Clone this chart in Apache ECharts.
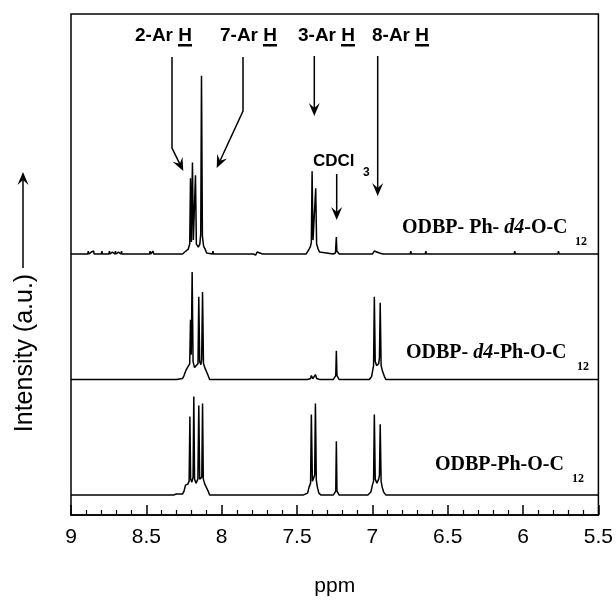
<!DOCTYPE html>
<html><head><meta charset="utf-8">
<script src="https://cdn.jsdelivr.net/npm/echarts@6/dist/echarts.min.js"></script>
<style>html,body{margin:0;padding:0;background:#fff}#c{width:616px;height:602px}</style>
</head><body><div id="c"></div>
<script>
// x: chemical shift (ppm); y: intensity (a.u.)
const xTicks = ['9','8.5','8','7.5','7','6.5','6','5.5'];
const traceNames = ['ODBP- Ph- d4-O-C12', 'ODBP- d4-Ph-O-C12', 'ODBP-Ph-O-C12'];
const traceOffsets = [242, 116, 0];

const traceTop = [
 [9.0,0],[8.919,0],[8.915,2],[8.911,0],[8.889,0],[8.885,3],[8.881,0],[8.869,0],[8.865,2],[8.861,0],
 [8.854,0],[8.85,3],[8.846,0],[8.824,0],[8.82,2],[8.816,0],[8.799,0],[8.795,3],[8.791,0],
 [8.769,0],[8.765,2],[8.761,0],[8.749,0],[8.745,3],[8.741,0],[8.729,0],[8.725,2],[8.721,0],
 [8.709,0],[8.705,3],[8.701,0],[8.689,0],[8.685,2],[8.681,0],[8.669,0],[8.665,3],[8.661,0],
 [8.629,0],[8.625,2],[8.621,0],[8.559,0],[8.555,2],[8.551,0],[8.479,0],[8.475,3],[8.471,0],
 [8.459,0],[8.455,3],[8.451,0],
 [8.26,0],[8.245,2],[8.235,4],[8.222,5],[8.212,10],[8.207,76],[8.201,12],[8.194,92],[8.188,14],
 [8.181,12],[8.174,79],[8.168,10],[8.155,7],[8.145,10],[8.139,20],[8.134,179],[8.128,18],
 [8.12,8],[8.11,5],[8.10,1],[8.09,0],[8.062,0],[8.058,3],[8.054,0],
 [7.859,0],[7.855,2],[7.851,0],[7.79,0],[7.785,2],[7.775,-1],[7.765,2],[7.755,0],
 [7.729,0],[7.725,2],[7.721,0],
 [7.44,0],[7.43,2],[7.42,5],[7.41,8],[7.405,12],[7.40,83],[7.394,14],[7.386,12],[7.381,15],
 [7.376,66],[7.37,10],[7.36,5],[7.35,2],[7.34,0],
 [7.26,0],[7.245,1],[7.241,3],[7.239,17],[7.236,3],[7.232,1],[7.22,0],
 [7.00,0],[6.992,1],[6.987,3],[6.982,1],[6.953,1],[6.948,3],[6.943,1],[6.93,0],
 [6.829,0],[6.825,2],[6.821,0],[6.749,0],[6.745,3],[6.741,0],[6.689,0],[6.685,2],[6.681,0],
 [6.649,0],[6.645,3],[6.641,0],[6.599,0],[6.595,2],[6.591,0],[6.479,0],[6.475,2],[6.471,0],
 [6.309,0],[6.305,2],[6.301,0],[6.059,0],[6.055,3],[6.051,0],[5.939,0],[5.935,2],[5.931,0],
 [5.769,0],[5.765,3],[5.761,0],[5.5,0]
];

const traceMid = [
 [9.0,0],[8.30,0],[8.26,1],[8.25,4],[8.235,10],[8.222,11],[8.212,16],[8.207,60],[8.202,25],
 [8.196,108],[8.19,18],[8.18,12],[8.168,11],[8.157,16],[8.152,83],[8.146,18],[8.138,15],
 [8.133,20],[8.127,88],[8.121,16],[8.112,12],[8.10,10],[8.09,4],[8.08,0],
 [7.43,0],[7.41,1],[7.405,4],[7.395,1],[7.383,1],[7.378,5],[7.37,1],[7.35,0],
 [7.26,0],[7.248,2],[7.243,4],[7.239,29],[7.235,4],[7.23,2],[7.22,0],
 [7.02,0],[7.005,3],[6.997,10],[6.992,14],[6.987,83],[6.981,18],[6.972,14],[6.958,16],
 [6.953,22],[6.948,77],[6.942,14],[6.932,8],[6.92,3],[6.91,0],[5.5,0]
];

const traceBottom = [
 [9.0,0],[8.32,0],[8.30,1],[8.26,1],[8.25,4],[8.24,10],[8.225,11],[8.216,14],[8.211,79],
 [8.206,16],[8.198,13],[8.19,18],[8.185,99],[8.18,16],[8.17,12],[8.158,16],[8.152,90],
 [8.146,16],[8.138,14],[8.132,18],[8.127,92],[8.122,16],[8.112,11],[8.10,10],[8.09,4],[8.08,0],
 [7.46,0],[7.43,2],[7.42,8],[7.41,12],[7.405,81],[7.398,14],[7.39,16],[7.383,20],[7.378,92],
 [7.372,15],[7.365,8],[7.355,2],[7.34,0],
 [7.26,0],[7.25,2],[7.243,4],[7.239,54],[7.235,4],[7.228,2],[7.22,0],
 [7.03,0],[7.01,3],[7.0,10],[6.992,14],[6.987,81],[6.981,16],[6.97,12],[6.958,16],[6.953,20],
 [6.948,71],[6.942,14],[6.935,8],[6.925,3],[6.91,0],[5.5,0]
];

const traces = [traceTop, traceMid, traceBottom];

const chart = echarts.init(document.getElementById('c'), null, {renderer:'canvas'});
const SANS = '"Liberation Sans", Arial, sans-serif';
const SERIF = '"Liberation Serif", "Times New Roman", serif';
const K = '#000';

function arrow(pts, w) {
  const n = pts.length;
  const [x1,y1] = pts[n-2], [x2,y2] = pts[n-1];
  const dx = x2-x1, dy = y2-y1, L = Math.hypot(dx,dy);
  const ux = dx/L, uy = dy/L, px = -uy, py = ux;
  const len = 13, hw = 5.5, notch = 8;
  const bx = x2 - ux*len, by = y2 - uy*len;
  const nx = x2 - ux*notch, ny = y2 - uy*notch;
  const line = pts.slice(0, n-1).concat([[nx, ny]]);
  return [
    {type:'polyline', shape:{points:line}, style:{stroke:K, lineWidth:w||1.5, fill:null}, silent:true},
    {type:'polygon', shape:{points:[[x2,y2],[bx+px*hw,by+py*hw],[nx,ny],[bx-px*hw,by-py*hw]]}, style:{fill:K}, silent:true}
  ];
}
function label(txt, right, y) {
  return [
    {type:'text', x:right, y:y, style:{text:txt, font:'bold 19px '+SANS, fill:K, align:'right', verticalAlign:'middle'}},
    {type:'rect', shape:{x:right-14, y:y+8, width:14, height:2.5}, style:{fill:K}}
  ];
}
function traceLabel(parts, x, y, subX, subY) {
  return [
    {type:'text', x:x, y:y, style:{text:parts, fill:K, align:'left', verticalAlign:'middle',
      rich:{b:{fontFamily:SERIF, fontWeight:'bold', fontSize:20, fill:K},
            i:{fontFamily:SERIF, fontWeight:'bold', fontStyle:'italic', fontSize:20, fill:K}}}},
    {type:'text', x:subX, y:subY, style:{text:'12', font:'bold 12px '+SERIF, fill:K, align:'left', verticalAlign:'middle'}}
  ];
}

const graphics = [].concat(
  label('2-Ar H', 192, 36), label('7-Ar H', 277, 36), label('3-Ar H', 355, 36), label('8-Ar H', 429, 36),
  arrow([[172,57],[172,148],[183.3,171]]),
  arrow([[243,57],[243,111],[216.7,168]]),
  arrow([[314.3,56],[314.3,116]]),
  arrow([[377.7,56],[377.7,196]]),
  arrow([[336.7,174],[336.7,220]]),
  [{type:'text', x:313, y:161, style:{text:'CDCl', font:'bold 17px '+SANS, fill:K, align:'left', verticalAlign:'middle'}},
   {type:'text', x:363, y:173, style:{text:'3', font:'bold 12px '+SANS, fill:K, align:'left', verticalAlign:'middle'}}],
  traceLabel('{b|ODBP- Ph- }{i|d4}{b|-O-C}', 402, 228, 575, 242),
  traceLabel('{b|ODBP- }{i|d4}{b|-Ph-O-C}', 406, 353, 577, 367),
  traceLabel('{b|ODBP-Ph-O-C}', 435, 465, 572, 479),
  [{type:'text', x:25, y:353, rotation:Math.PI/2, style:{text:'Intensity (a.u.)', font:'25px '+SANS, fill:K, align:'center', verticalAlign:'middle'}}],
  arrow([[23,268],[23,172]], 1.5)
);

chart.setOption({
  animation:false,
  backgroundColor:'#fff',
  grid:{left:71, right:17, top:14, bottom:85, show:true, borderColor:K, borderWidth:1.5, backgroundColor:'transparent'},
  xAxis:{
    type:'value', inverse:true, min:5.5, max:9, interval:0.5,
    name:'ppm', nameLocation:'middle', nameGap:61,
    nameTextStyle:{fontFamily:SANS, fontSize:21, color:K},
    axisLine:{onZero:false, lineStyle:{color:K, width:1.5}},
    axisTick:{inside:true, length:10, lineStyle:{color:K, width:1.5}},
    minorTick:{show:true, splitNumber:5, length:5, lineStyle:{color:K, width:1.2}},
    axisLabel:{fontFamily:SANS, fontSize:21, color:K, margin:12,
      formatter:v => xTicks[Math.round((9 - v)/0.5)] ?? String(v)},
    splitLine:{show:false}
  },
  yAxis:{type:'value', min:-20, max:483, show:false, splitLine:{show:false}},
  series: traces.map((t, k) => ({
    type:'line', name:traceNames[k], showSymbol:false, symbol:'none',
    lineStyle:{color:K, width:1.5}, silent:true, z:3,
    data: t.map(([p, v]) => [p, v + traceOffsets[k]])
  })),
  graphic: graphics
});
</script></body></html>
